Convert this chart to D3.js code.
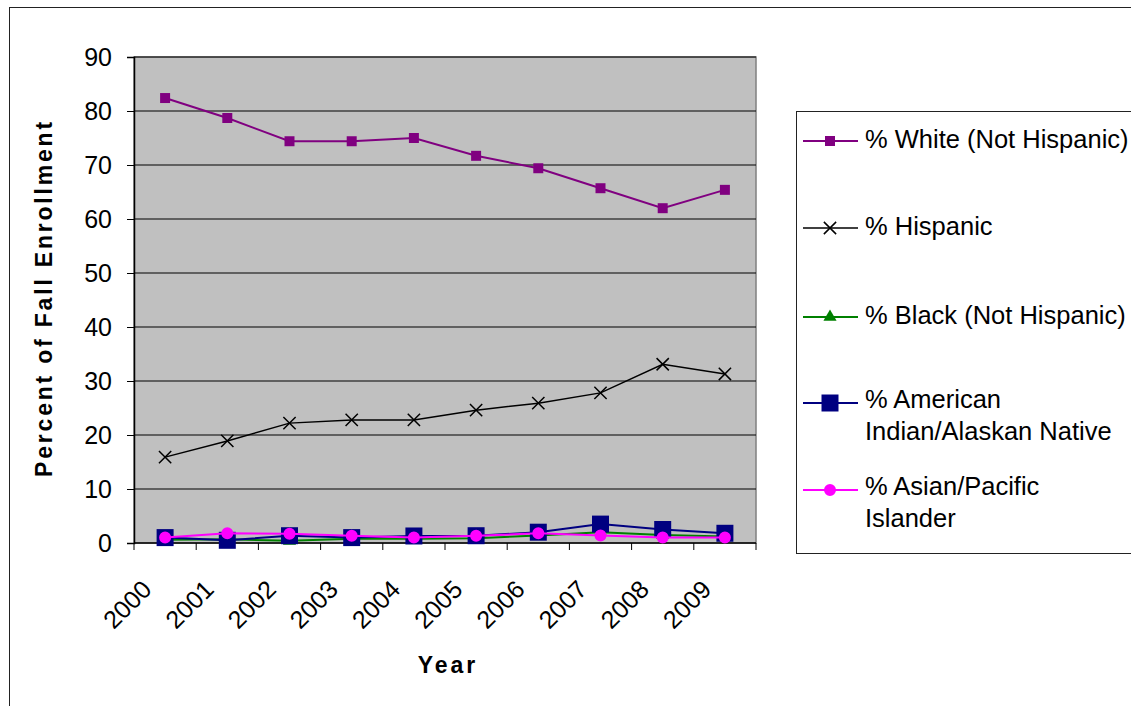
<!DOCTYPE html>
<html>
<head>
<meta charset="utf-8">
<script src="https://cdn.jsdelivr.net/npm/d3@7"></script>
<style>
    body { margin: 0; background: #fff; }
    svg { display: block; font-family: "Liberation Sans", Arial, sans-serif; }
    .tick-label { font-size: 25px; fill: #000; }
    .axis-title { font-size: 23px; font-weight: bold; fill: #000; }
    .legend-text { font-size: 25.5px; fill: #000; }
</style>
</head>
<body>
<div id="chart"></div>
<script>
// chart values
const years = ['2000', '2001', '2002', '2003', '2004', '2005', '2006', '2007', '2008', '2009'];
const white = [82.4, 78.7, 74.4, 74.4, 75.0, 71.7, 69.4, 65.7, 62.0, 65.4];
const hispanic = [15.9, 18.9, 22.2, 22.8, 22.8, 24.6, 25.9, 27.8, 33.1, 31.3];
const black = [0.6, 0.7, 0.4, 0.8, 0.8, 0.9, 1.4, 2.0, 1.5, 1.2];
const amIndian = [1.0, 0.5, 1.35, 1.0, 1.3, 1.35, 2.0, 3.5, 2.5, 1.8];
const asian = [1.0, 1.8, 1.7, 1.35, 1.0, 1.35, 1.8, 1.4, 1.0, 1.0];
const yTicks = [0, 10, 20, 30, 40, 50, 60, 70, 80, 90];
const seriesNames = [
    ['% White (Not Hispanic)'],
    ['% Hispanic'],
    ['% Black (Not Hispanic)'],
    ['% American', 'Indian/Alaskan Native'],
    ['% Asian/Pacific', 'Islander']
];

class EnrollmentChart {
    constructor() {
        this._width = 1131;
        this._height = 706;
        this._xTitle = 'Year';
        this._yTitle = 'Percent  of Fall Enrollment';

        // plot area edges
        this._plot = { left: 134, right: 756, top: 57, bottom: 543 };
    }

    call(selection) {
        let outerThis = this;
        let p = outerThis._plot;

        let xScale = d3.scaleBand().domain(years).range([p.left, p.right]);
        let yScale = d3.scaleLinear().domain([0, 90]).range([p.bottom, p.top]);
        let cx = d => xScale(d) + xScale.bandwidth() / 2;

        let series = [
            { values: white, color: '#800080', width: 2, symbol: d3.symbolSquare, size: 100, fill: true },
            { values: hispanic, color: '#000000', width: 1.5, symbol: d3.symbolX, size: 100, fill: false },
            { values: black, color: '#008000', width: 2, symbol: d3.symbolTriangle, size: 75, fill: true },
            { values: amIndian, color: '#000080', width: 2, symbol: d3.symbolSquare, size: 289, fill: true },
            { values: asian, color: '#FF00FF', width: 2, symbol: d3.symbolCircle, size: 113, fill: true }
        ];

        let svg = selection.append('svg')
            .attr('width', outerThis._width)
            .attr('height', outerThis._height);

        // chart border
        svg.append('rect')
            .attr('x', 9.5).attr('y', 7.5)
            .attr('width', 1300).attr('height', 900)
            .attr('fill', '#fff').attr('stroke', '#222').attr('stroke-width', 1);

        // plot background
        svg.append('rect')
            .attr('x', p.left).attr('y', p.top)
            .attr('width', p.right - p.left).attr('height', p.bottom - p.top)
            .attr('fill', '#C0C0C0').attr('stroke', '#808080').attr('stroke-width', 1.5);

        // gridlines
        svg.append('g')
            .selectAll('line')
            .data(yTicks.filter(d => d > 0))
            .join('line')
            .attr('x1', p.left).attr('x2', p.right)
            .attr('y1', d => yScale(d)).attr('y2', d => yScale(d))
            .attr('stroke', '#000').attr('stroke-width', 1);

        // y axis
        let yAxis = d3.axisLeft(yScale).tickValues(yTicks).tickSize(7).tickPadding(15);
        let yAxisG = svg.append('g')
            .attr('transform', `translate(${p.left},0)`)
            .call(yAxis);
        yAxisG.select('.domain').attr('stroke', '#000').attr('stroke-width', 1.5);
        yAxisG.selectAll('.tick line').attr('stroke', '#000');
        yAxisG.selectAll('.tick text')
            .attr('class', 'tick-label')
            .attr('font-size', null).attr('font-family', null)
            .attr('dy', '0.35em');

        // x axis - ticks between categories
        let boundaries = years.map(d => xScale(d)).concat([p.right]);
        svg.append('line')
            .attr('x1', p.left).attr('x2', p.right)
            .attr('y1', p.bottom).attr('y2', p.bottom)
            .attr('stroke', '#000').attr('stroke-width', 1.5);
        svg.append('g')
            .selectAll('line')
            .data(boundaries)
            .join('line')
            .attr('x1', d => d).attr('x2', d => d)
            .attr('y1', p.bottom).attr('y2', p.bottom + 7)
            .attr('stroke', '#000');

        svg.append('g')
            .selectAll('text')
            .data(years)
            .join('text')
            .attr('class', 'tick-label')
            .attr('text-anchor', 'end')
            .attr('transform', d => `translate(${cx(d) - 12}, ${p.bottom + 48}) rotate(-45)`)
            .text(d => d);

        // lines and markers
        let line = d3.line()
            .x((v, i) => cx(years[i]))
            .y(v => yScale(v));

        series.forEach(s => {
            svg.append('path')
                .datum(s.values)
                .attr('d', line)
                .attr('fill', 'none')
                .attr('stroke', s.color)
                .attr('stroke-width', s.width);
            svg.append('g')
                .selectAll('path')
                .data(s.values)
                .join('path')
                .attr('transform', (v, i) => `translate(${cx(years[i])}, ${yScale(v)})`)
                .attr('d', d3.symbol(s.symbol, s.size))
                .attr('fill', s.fill ? s.color : 'none')
                .attr('stroke', s.fill ? 'none' : s.color)
                .attr('stroke-width', 1.5);
        });

        // axis titles
        svg.append('text')
            .attr('class', 'axis-title')
            .attr('text-anchor', 'middle')
            .attr('letter-spacing', 3)
            .attr('x', 448).attr('y', 673)
            .text(outerThis._xTitle);

        svg.append('text')
            .attr('class', 'axis-title')
            .attr('text-anchor', 'middle')
            .attr('letter-spacing', 2.8)
            .attr('transform', 'translate(52, 298) rotate(-90)')
            .text(outerThis._yTitle);

        // legend
        let legendY = [141, 228, 317, 403, 490];
        let legend = svg.append('g');
        legend.append('rect')
            .attr('x', 796.5).attr('y', 111.5)
            .attr('width', 400).attr('height', 442)
            .attr('fill', '#fff').attr('stroke', '#222').attr('stroke-width', 1);

        series.forEach((s, i) => {
            let g = legend.append('g').attr('transform', `translate(0, ${legendY[i]})`);
            g.append('line')
                .attr('x1', 803).attr('x2', 858)
                .attr('y1', 0).attr('y2', 0)
                .attr('stroke', s.color).attr('stroke-width', s.width);
            g.append('path')
                .attr('transform', 'translate(830, 0)')
                .attr('d', d3.symbol(s.symbol, s.size))
                .attr('fill', s.fill ? s.color : 'none')
                .attr('stroke', s.fill ? 'none' : s.color)
                .attr('stroke-width', 1.5);
            let lines = seriesNames[i];
            g.selectAll('text')
                .data(lines)
                .join('text')
                .attr('class', 'legend-text')
                .attr('x', 865)
                .attr('y', (t, j) => (lines.length > 1 ? 5 : 6.5) + j * 32)
                .text(t => t);
        });
    }
}

let chart = new EnrollmentChart();
chart.call(d3.select('#chart'));
</script>
</body>
</html>
